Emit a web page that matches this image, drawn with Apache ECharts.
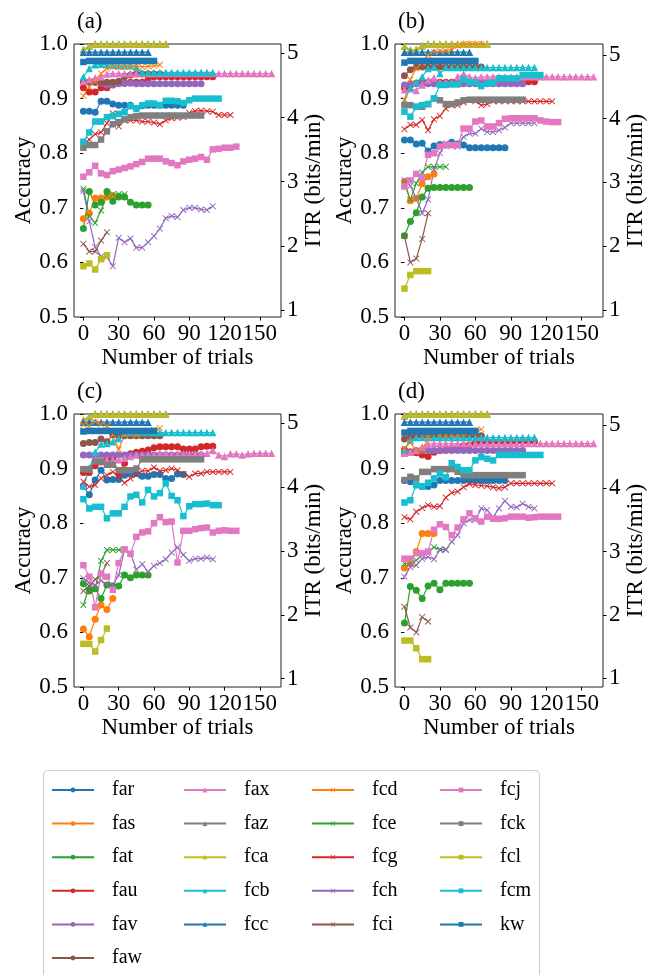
<!DOCTYPE html>
<html><head><meta charset="utf-8">
<script src="https://cdn.jsdelivr.net/npm/echarts@6/dist/echarts.min.js"></script>
<style>html,body{margin:0;padding:0;background:#fff}#c{width:659px;height:975px}</style>
</head><body><div id="c"></div>
<script>
// ---------------- data ----------------
const trials = [0,5,10,15,20,25,30,35,40,45,50,55,60,65,70,75,80,85,90,95,100,105,110,115,120,125,130,135,140,145,150,155,160];
const panelLabels = ['(a)','(b)','(c)','(d)'];
const trialTicks = [0,30,60,90,120,150];
const itrTicks = [1,2,3,4,5];
const itrRanges = [[0.891,5.145],[0.89,5.17],[0.87,5.146],[0.863,5.174]];

// each subject: [panel a, panel b, panel c, panel d] accuracy values at trials 0,5,10,...
const far = [
 [0.877,0.877,0.875,0.895,0.895,0.89,0.888,0.888,0.888,0.882,0.887,0.888,0.888,0.888,0.888,0.888,0.888,0.888],
 [0.824,0.824,0.817,0.818,0.804,0.813,0.816,0.815,0.82,0.817,0.815,0.81,0.81,0.81,0.81,0.81,0.81,0.81],
 [0.868,0.852,0.879,0.897,0.879,0.88,0.88,0.888,0.891,0.891,0.886,0.886,0.889,0.889,0.882,0.882,0.89,0.889],
 [0.878,0.876,0.87,0.867,0.867,0.87,0.878,0.878,0.878,0.878,0.878,0.878,0.878,0.878,0.878,0.878,0.878,0.878]];
const fas = [
 [0.68,0.69,0.718,0.718,0.72,0.722],
 [0.748,0.713,0.717,0.744,0.757,0.762],
 [0.606,0.592,0.624,0.65,0.642,0.662],
 [0.718,0.726,0.748,0.781,0.781,0.781]];
const fat = [
 [0.662,0.73,0.705,0.71,0.73,0.712,0.72,0.72,0.71,0.705,0.705,0.705],
 [0.649,0.675,0.691,0.72,0.736,0.737,0.737,0.737,0.737,0.737,0.737,0.737],
 [0.689,0.676,0.68,0.662,0.687,0.685,0.685,0.705,0.7,0.705,0.705,0.705],
 [0.617,0.684,0.677,0.662,0.685,0.69,0.678,0.69,0.69,0.69,0.69,0.69]];
const fau = [
 [0.92,0.912,0.912,0.92,0.92,0.925,0.928,0.928,0.93,0.93,0.93,0.935,0.94,0.94,0.94,0.94,0.94,0.94,0.94,0.94,0.94,0.94,0.94],
 [0.92,0.925,0.928,0.93,0.93,0.93,0.93,0.93,0.93,0.93,0.93,0.93,0.93,0.93,0.93,0.93,0.93,0.93,0.93,0.93,0.93,0.931,0.931],
 [0.893,0.893,0.905,0.912,0.915,0.92,0.89,0.91,0.927,0.93,0.932,0.934,0.938,0.94,0.94,0.94,0.94,0.936,0.936,0.936,0.94,0.941,0.941],
 [0.934,0.931,0.929,0.925,0.922,0.93,0.933,0.934,0.937,0.939,0.942,0.943,0.946,0.949,0.949,0.949,0.949,0.949,0.949,0.95,0.95,0.95,0.95]];
const fav = [
 [0.932,0.93,0.93,0.928,0.925,0.926,0.927,0.928,0.928,0.927,0.927,0.927,0.927,0.927,0.927,0.927,0.927,0.927,0.927,0.927,0.927],
 [0.925,0.927,0.927,0.927,0.927,0.927,0.927,0.927,0.927,0.927,0.927,0.927,0.927,0.927,0.927,0.927,0.927,0.927,0.927,0.927,0.927],
 [0.925,0.925,0.925,0.925,0.925,0.925,0.925,0.925,0.925,0.925,0.925,0.925,0.925,0.925,0.925,0.925,0.925,0.925,0.925,0.925,0.925],
 [0.928,0.93,0.933,0.933,0.933,0.933,0.933,0.933,0.933,0.933,0.933,0.933,0.933,0.933,0.933,0.933,0.933,0.933,0.933,0.933,0.933]];
const faw = [
 [0.93,0.93,0.93,0.93,0.93,0.93,0.932,0.94,0.943,0.945,0.945,0.945,0.945,0.945],
 [0.942,0.953,0.958,0.958,0.958,0.958,0.958,0.958,0.958,0.958,0.958,0.958,0.958,0.958],
 [0.946,0.948,0.948,0.954,0.949,0.962,0.96,0.96,0.96,0.96,0.96,0.96,0.96,0.96],
 [0.954,0.958,0.96,0.96,0.96,0.96,0.96,0.96,0.96,0.96,0.96,0.96,0.96,0.96]];
const fax = [
 [0.932,0.935,0.938,0.94,0.945,0.946,0.946,0.946,0.946,0.946,0.946,0.946,0.946,0.946,0.946,0.946,0.946,0.946,0.946,0.946,0.946,0.946,0.946,0.946,0.946,0.946,0.946,0.946,0.946,0.946,0.946,0.946,0.946],
 [0.916,0.918,0.915,0.925,0.934,0.938,0.93,0.93,0.93,0.94,0.945,0.94,0.938,0.94,0.94,0.94,0.94,0.94,0.94,0.94,0.94,0.94,0.94,0.94,0.94,0.94,0.94,0.94,0.94,0.94,0.94,0.94,0.94],
 [0.87,0.9,0.916,0.916,0.916,0.916,0.916,0.919,0.922,0.925,0.925,0.926,0.926,0.927,0.927,0.926,0.926,0.927,0.927,0.927,0.927,0.928,0.933,0.925,0.922,0.927,0.927,0.925,0.927,0.928,0.928,0.928,0.928],
 [0.928,0.93,0.933,0.94,0.945,0.946,0.946,0.946,0.946,0.946,0.946,0.946,0.946,0.946,0.946,0.946,0.946,0.946,0.946,0.946,0.946,0.946,0.946,0.946,0.946,0.946,0.946,0.946,0.946,0.946,0.946,0.946,0.946]];
const faz = [
 [0.99,0.996,1,1,1,1,1,1,1,1,1,1,1,1,1],
 [0.996,0.989,0.99,0.997,1,1,1,1,1,1,1,1,1,1,1],
 [0.989,0.995,1,1,1,1,1,1,1,1,1,1,1,1,1],
 [0.997,1,1,1,1,1,1,1,1,1,1,1,1,1,1]];
const fca = [
 [0.99,0.996,1,1,1,1,1,1,1,1,1,1,1,1,1],
 [0.996,0.989,0.99,0.997,1,1,1,1,1,1,1,1,1,1,1],
 [0.989,0.995,1,1,1,1,1,1,1,1,1,1,1,1,1],
 [0.997,1,1,1,1,1,1,1,1,1,1,1,1,1,1]];
const fcb = [
 [0.94,0.955,0.962,0.963,0.962,0.961,0.96,0.96,0.96,0.958,0.948,0.948,0.948,0.948,0.948,0.948,0.948,0.948,0.948,0.948,0.948,0.948,0.948],
 [0.895,0.92,0.93,0.94,0.955,0.958,0.946,0.957,0.957,0.957,0.957,0.957,0.957,0.957,0.957,0.957,0.957,0.957,0.957,0.957,0.957,0.957,0.957],
 [0.868,0.9,0.93,0.945,0.946,0.949,0.955,0.965,0.966,0.966,0.966,0.966,0.966,0.966,0.966,0.966,0.966,0.966,0.966,0.966,0.966,0.966,0.966],
 [0.935,0.953,0.957,0.957,0.957,0.957,0.957,0.957,0.957,0.957,0.957,0.957,0.957,0.957,0.957,0.957,0.957,0.957,0.957,0.957,0.957,0.957,0.957]];
const fcc = [
 [0.985,0.985,0.985,0.985,0.985,0.985,0.985,0.985,0.985,0.985,0.985,0.985],
 [0.985,0.985,0.985,0.985,0.985,0.985,0.985,0.985,0.985,0.985,0.985,0.985],
 [0.985,0.985,0.985,0.985,0.985,0.985,0.985,0.985,0.985,0.985,0.985,0.985],
 [0.985,0.985,0.985,0.985,0.985,0.985,0.985,0.985,0.985,0.985,0.985,0.985]];
const fcd = [
 [0.905,0.922,0.931,0.946,0.955,0.958,0.958,0.958,0.959,0.96,0.958,0.959,0.96,0.962],
 [0.898,0.935,0.955,0.965,0.98,0.985,0.987,0.988,0.99,0.997,1,1,1,1],
 [0.98,0.978,0.986,0.982,0.978,0.962,0.935,0.962,0.965,0.962,0.966,0.968,0.971,0.974],
 [0.937,0.948,0.932,0.935,0.955,0.968,0.963,0.96,0.963,0.962,0.965,0.968,0.969,0.972]];
const fce = [
 [0.735,0.685,0.672,0.695,0.722,0.725,0.725,0.725],
 [0.745,0.715,0.745,0.765,0.775,0.775,0.775,0.775],
 [0.65,0.684,0.679,0.731,0.751,0.751,0.751,0.751],
 [0.726,0.727,0.732,0.742,0.748,0.756,0.752,0.752]];
const fcg = [
 [0.815,0.825,0.835,0.838,0.855,0.873,0.849,0.86,0.86,0.86,0.858,0.858,0.856,0.853,0.86,0.864,0.865,0.866,0.874,0.877,0.878,0.877,0.876,0.87,0.87,0.87],
 [0.844,0.852,0.852,0.861,0.842,0.862,0.868,0.882,0.888,0.888,0.893,0.897,0.895,0.888,0.89,0.895,0.895,0.895,0.895,0.895,0.895,0.895,0.895,0.895,0.895,0.895],
 [0.876,0.867,0.87,0.882,0.888,0.894,0.885,0.874,0.882,0.888,0.896,0.896,0.902,0.896,0.897,0.9,0.897,0.89,0.885,0.891,0.891,0.894,0.894,0.894,0.894,0.894],
 [0.811,0.807,0.821,0.828,0.833,0.83,0.831,0.847,0.856,0.858,0.866,0.872,0.87,0.869,0.868,0.866,0.864,0.866,0.873,0.873,0.873,0.873,0.873,0.873,0.873,0.873]];
const fch = [
 [0.731,0.675,0.628,0.611,0.61,0.593,0.645,0.637,0.644,0.627,0.627,0.637,0.648,0.662,0.681,0.685,0.683,0.696,0.7,0.7,0.697,0.696,0.703],
 [0.751,0.74,0.718,0.69,0.715,0.77,0.8,0.818,0.813,0.812,0.83,0.836,0.836,0.845,0.839,0.839,0.842,0.847,0.855,0.855,0.855,0.855,0.855],
 [0.699,0.691,0.687,0.695,0.687,0.687,0.705,0.752,0.745,0.715,0.725,0.711,0.722,0.727,0.734,0.746,0.756,0.742,0.731,0.735,0.735,0.737,0.734],
 [0.702,0.72,0.723,0.735,0.738,0.734,0.751,0.751,0.766,0.778,0.8,0.806,0.806,0.827,0.824,0.811,0.827,0.841,0.83,0.829,0.836,0.83,0.827]];
const fci = [
 [0.634,0.62,0.62,0.64,0.655],
 [0.648,0.6,0.607,0.643,0.69],
 [0.676,0.685,0.697,0.705,0.727],
 [0.647,0.609,0.6,0.628,0.62]];
const fcj = [
 [0.757,0.765,0.777,0.763,0.76,0.767,0.77,0.773,0.776,0.78,0.784,0.79,0.79,0.79,0.785,0.782,0.778,0.785,0.788,0.79,0.793,0.788,0.807,0.808,0.81,0.81,0.812],
 [0.739,0.75,0.762,0.755,0.797,0.8,0.812,0.815,0.815,0.815,0.845,0.845,0.858,0.86,0.849,0.849,0.855,0.863,0.864,0.864,0.864,0.864,0.864,0.86,0.858,0.857,0.857],
 [0.723,0.702,0.646,0.708,0.702,0.678,0.727,0.752,0.744,0.775,0.783,0.785,0.8,0.811,0.802,0.803,0.728,0.786,0.786,0.789,0.791,0.792,0.783,0.786,0.787,0.786,0.786],
 [0.735,0.735,0.745,0.745,0.748,0.788,0.798,0.793,0.778,0.792,0.807,0.818,0.809,0.803,0.812,0.808,0.808,0.809,0.812,0.812,0.812,0.81,0.811,0.812,0.812,0.812,0.812]];
const fck = [
 [0.81,0.815,0.815,0.825,0.84,0.853,0.857,0.862,0.866,0.868,0.869,0.869,0.869,0.869,0.869,0.869,0.869,0.869,0.869,0.869,0.869],
 [0.888,0.888,0.885,0.885,0.89,0.9,0.897,0.89,0.89,0.893,0.897,0.898,0.898,0.898,0.898,0.898,0.898,0.898,0.898,0.898,0.898],
 [0.899,0.899,0.913,0.913,0.907,0.907,0.897,0.897,0.897,0.9,0.917,0.917,0.917,0.917,0.917,0.917,0.917,0.917,0.917,0.917,0.917],
 [0.879,0.885,0.882,0.894,0.894,0.899,0.899,0.899,0.899,0.894,0.888,0.888,0.888,0.888,0.888,0.888,0.888,0.888,0.888,0.888,0.888]];
const fcl = [
 [0.593,0.598,0.587,0.606,0.613],
 [0.552,0.577,0.584,0.584,0.584],
 [0.579,0.579,0.565,0.586,0.607],
 [0.585,0.585,0.571,0.551,0.551]];
const fcm = [
 [0.821,0.838,0.858,0.858,0.866,0.868,0.872,0.875,0.886,0.882,0.888,0.891,0.891,0.888,0.896,0.896,0.895,0.892,0.897,0.9,0.9,0.9,0.9,0.9],
 [0.876,0.867,0.885,0.888,0.89,0.9,0.925,0.925,0.926,0.926,0.935,0.93,0.93,0.923,0.928,0.929,0.937,0.937,0.937,0.937,0.943,0.943,0.943,0.943],
 [0.844,0.827,0.83,0.83,0.809,0.818,0.818,0.83,0.849,0.852,0.838,0.861,0.849,0.855,0.873,0.85,0.842,0.813,0.831,0.835,0.835,0.836,0.833,0.833],
 [0.838,0.842,0.87,0.867,0.874,0.882,0.891,0.884,0.91,0.903,0.897,0.897,0.915,0.921,0.918,0.915,0.925,0.925,0.925,0.925,0.925,0.925,0.925,0.925]];
const kw = [
 [0.967,0.969,0.969,0.969,0.969,0.969,0.969,0.969,0.969,0.969,0.969,0.969,0.969],
 [0.966,0.969,0.969,0.969,0.969,0.969,0.969,0.969,0.969,0.969,0.969,0.969,0.969],
 [0.968,0.969,0.969,0.969,0.969,0.969,0.969,0.969,0.969,0.969,0.969,0.969,0.969],
 [0.966,0.969,0.969,0.969,0.969,0.969,0.969,0.969,0.969,0.969,0.969,0.969,0.969]];

const subjects = ['far','fas','fat','fau','fav','faw','fax','faz','fca','fcb','fcc','fcd','fce','fcg','fch','fci','fcj','fck','fcl','fcm','kw'];
const subjectData = [far,fas,fat,fau,fav,faw,fax,faz,fca,fcb,fcc,fcd,fce,fcg,fch,fci,fcj,fck,fcl,fcm,kw];

// ---------------- style ----------------
const palette = ['#1f77b4','#ff7f0e','#2ca02c','#d62728','#9467bd','#8c564b','#e377c2','#7f7f7f','#bcbd22','#17becf'];
const X_PATH = 'path://M1,0L5,4L9,0L10,1L6,5L10,9L9,10L5,6L1,10L0,9L4,5L0,1Z';
const markerFor = i => i < 6 ? ['circle',7] : i < 11 ? ['triangle',7.5] : i < 16 ? [X_PATH,6.5] : ['rect',6.5];
const FONT = 'Liberation Serif';
const grids = [
  {left:74, top:44, width:207, height:273},
  {left:395, top:44, width:208, height:273},
  {left:74, top:414, width:207, height:273},
  {left:395, top:414, width:208, height:273}];
const txt = {fontFamily:FONT, fontSize:23, color:'#000'};

const option = {
  animation:false,
  backgroundColor:'#fff',
  title: grids.map((g,i)=>({text:panelLabels[i], left:g.left-2, top:g.top-39,
    textStyle:{fontFamily:FONT, fontSize:23, fontWeight:'normal', color:'#000'}})),
  grid: grids.map(g=>Object.assign({show:true, borderColor:'#222', borderWidth:1, backgroundColor:'rgba(0,0,0,0)'}, g)),
  xAxis: grids.map((g,i)=>({gridIndex:i, type:'value', min:-8, max:168,
    axisLine:{show:false}, splitLine:{show:false},
    axisTick:{show:true, length:3.5, customValues:trialTicks, lineStyle:{color:'#000', width:1}},
    axisLabel:Object.assign({customValues:trialTicks, margin:5, hideOverlap:false}, txt),
    name:'Number of trials', nameLocation:'middle', nameGap:29, nameTextStyle:txt})),
  yAxis: [],
  legend: [],
  graphic: [{type:'rect', left:43, top:770, z:-10, shape:{width:496, height:210, r:4},
     style:{fill:'#fff', stroke:'#cccccc', lineWidth:1}}],
  series: []
};
grids.forEach((g,i)=>{
  option.yAxis.push({gridIndex:i, type:'value', position:'left', min:0.5, max:1.0, interval:0.1,
    axisLine:{show:false}, splitLine:{show:false},
    axisTick:{show:true, length:3.5, lineStyle:{color:'#000', width:1}},
    axisLabel:Object.assign({margin:6, formatter:v=>v.toFixed(1)}, txt),
    name:'Accuracy', nameLocation:'middle', nameRotate:90, nameGap:36, nameTextStyle:txt});
  option.yAxis.push({gridIndex:i, type:'value', position:'right', min:itrRanges[i][0], max:itrRanges[i][1],
    axisLine:{show:false}, splitLine:{show:false},
    axisTick:{show:true, length:3.5, customValues:itrTicks, lineStyle:{color:'#000', width:1}},
    axisLabel:Object.assign({customValues:itrTicks, margin:6}, txt),
    name:'ITR (bits/min)', nameLocation:'middle', nameRotate:90, nameGap:19, nameTextStyle:txt});
  subjects.forEach((s,k)=>{
    const vals = subjectData[k][i];
    const [sym,size] = markerFor(k);
    const col = palette[k % 10];
    option.series.push({type:'line', name:s, xAxisIndex:i, yAxisIndex:2*i,
      data: vals.map((v,j)=>[trials[j], v]),
      symbol:sym, symbolSize:size, showSymbol:true,
      itemStyle:{color:col}, lineStyle:{color:col, width:1.2}, emphasis:{disabled:true}});
  });
});
const legendCols = [subjects.slice(0,6), subjects.slice(6,11), subjects.slice(11,16), subjects.slice(16,21)];
const legendX = [51,183,311,439];
legendCols.forEach((names,c)=>{
  option.legend.push({orient:'vertical', left:legendX[c], top:780, height:195, padding:0,
    itemWidth:42, itemHeight:6, itemGap:13.6,
    selectedMode:false, data:names,
    textStyle:{fontFamily:FONT, fontSize:20, color:'#000', lineHeight:20, padding:[0,0,0,13]}});
});
const chart = echarts.init(document.getElementById('c'), null, {renderer:'canvas'});
chart.setOption(option);
</script></body></html>
